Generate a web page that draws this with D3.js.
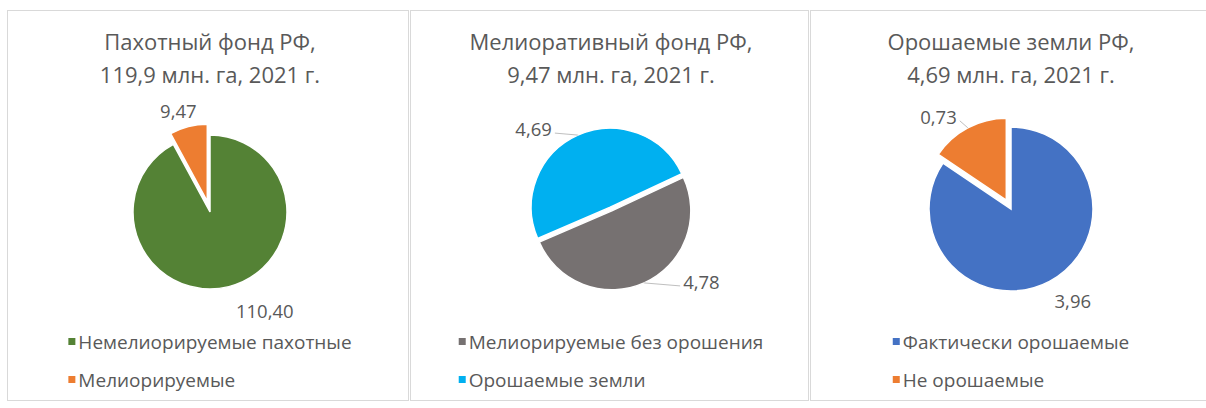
<!DOCTYPE html>
<html>
<head>
<meta charset="utf-8">
<script src="https://cdn.jsdelivr.net/npm/d3@7"></script>
<style>
  body { margin: 0; background: #fff; }
  svg { display: block; font-family: "Open Sans", "Noto Sans", sans-serif; }
</style>
</head>
<body>
<svg width="1206" height="408"></svg>
<script>
// данные
var titleLines = [
  ["Пахотный фонд РФ,", "119,9 млн. га, 2021 г."],
  ["Мелиоративный фонд РФ,", "9,47 млн. га, 2021 г."],
  ["Орошаемые земли РФ,", "4,69 млн. га, 2021 г."]
]
var arableNames = ["Немелиорируемые пахотные", "Мелиорируемые"]
var arableValues = [110.40, 9.47]
var meliorNames = ["Мелиорируемые без орошения", "Орошаемые земли"]
var meliorValues = [4.78, 4.69]
var irrigNames = ["Фактически орошаемые", "Не орошаемые"]
var irrigValues = [3.96, 0.73]

var arableColors = ["#548235", "#ED7D31"]
var meliorColors = ["#767171", "#00B0F0"]
var irrigColors = ["#4472C4", "#ED7D31"]

// раскладка
var panels = [
  { x: 7, w: 401, cx: 210, cy: 212, r: 77, start: 0, explode: [0, 11],
    labels: [{dx: 7, dy: 31, anchor: "start"}, {dx: -10, dy: -9, anchor: "middle"}] },
  { x: 410, w: 398, cx: 611, cy: 209, r: 79, start: 65, explode: [2, 2],
    labels: [{dx: 39, dy: 6, anchor: "start", leader: true}, {dx: -26, dy: 1, anchor: "end", leader: true}] },
  { x: 810, w: 400, cx: 1011, cy: 209, r: 82, start: 0, explode: [0, 10],
    labels: [{dx: 5, dy: 27, anchor: "start"}, {dx: -11, dy: -4, anchor: "end", leader: true}] }
]
var charts = [
  { names: arableNames, values: arableValues, colors: arableColors },
  { names: meliorNames, values: meliorValues, colors: meliorColors },
  { names: irrigNames, values: irrigValues, colors: irrigColors }
]

var textColor = "#595959"
var fmt = v => d3.format(".2f")(v).replace(".", ",")
var svg = d3.select("svg")

charts.forEach((c, i) => {
  var p = panels[i]
  var g = svg.append("g")

  g.append("rect")
    .attr("x", p.x + 0.5).attr("y", 10.5)
    .attr("width", p.w).attr("height", 390)
    .attr("fill", "#fff").attr("stroke", "#d9d9d9")

  // заголовок
  g.append("text")
    .attr("x", p.cx).attr("y", 50)
    .attr("text-anchor", "middle")
    .attr("font-size", 22).attr("fill", textColor)
    .selectAll("tspan").data(titleLines[i]).enter().append("tspan")
    .attr("x", p.cx).attr("dy", (d, j) => j ? 33 : 0)
    .text(d => d)

  var a0 = p.start * Math.PI / 180
  var pie = d3.pie().sort(null).startAngle(a0).endAngle(a0 + 2 * Math.PI)
  var arcs = pie(c.values)
  var arc = d3.arc().innerRadius(0).outerRadius(p.r)

  arcs.forEach((a, j) => {
    var mid = (a.startAngle + a.endAngle) / 2
    var ox = p.cx + p.explode[j] * Math.sin(mid)
    var oy = p.cy - p.explode[j] * Math.cos(mid)
    g.append("path")
      .attr("d", arc(a))
      .attr("transform", "translate(" + ox + "," + oy + ")")
      .attr("fill", c.colors[j])
      .attr("stroke", "#fff").attr("stroke-width", 1.5)

    var ex = ox + p.r * Math.sin(mid)
    var ey = oy - p.r * Math.cos(mid)
    var lb = p.labels[j]
    var lx = ex + lb.dx, ly = ey + lb.dy
    if (lb.leader) {
      var side = lb.anchor == "end" ? 1 : -1
      g.append("line")
        .attr("x1", ex).attr("y1", ey)
        .attr("x2", lx + side * 3).attr("y2", ly - 3)
        .attr("stroke", "#bfbfbf").attr("stroke-width", 1)
    }
    g.append("text")
      .attr("x", lx).attr("y", ly)
      .attr("text-anchor", lb.anchor)
      .attr("font-size", 18.5).attr("fill", textColor)
      .text(fmt(c.values[j]))
  })

  // легенда
  var leg = g.append("g")
  var items = leg.selectAll("g").data(c.names).enter().append("g")
    .attr("transform", (d, j) => "translate(0," + (342 + j * 38) + ")")
  items.append("rect")
    .attr("x", 0).attr("y", -4).attr("width", 7).attr("height", 7)
    .attr("fill", (d, j) => c.colors[j])
  items.append("text")
    .attr("x", 10).attr("y", 0).attr("dy", "0.35em")
    .attr("font-size", 19).attr("fill", textColor)
    .text(d => d)
  var wmax = 0
  items.selectAll("text").each(function() { wmax = Math.max(wmax, this.getComputedTextLength()) })
  leg.attr("transform", "translate(" + (p.cx - (wmax + 10) / 2) + ",0)")
})
</script>
</body>
</html>
